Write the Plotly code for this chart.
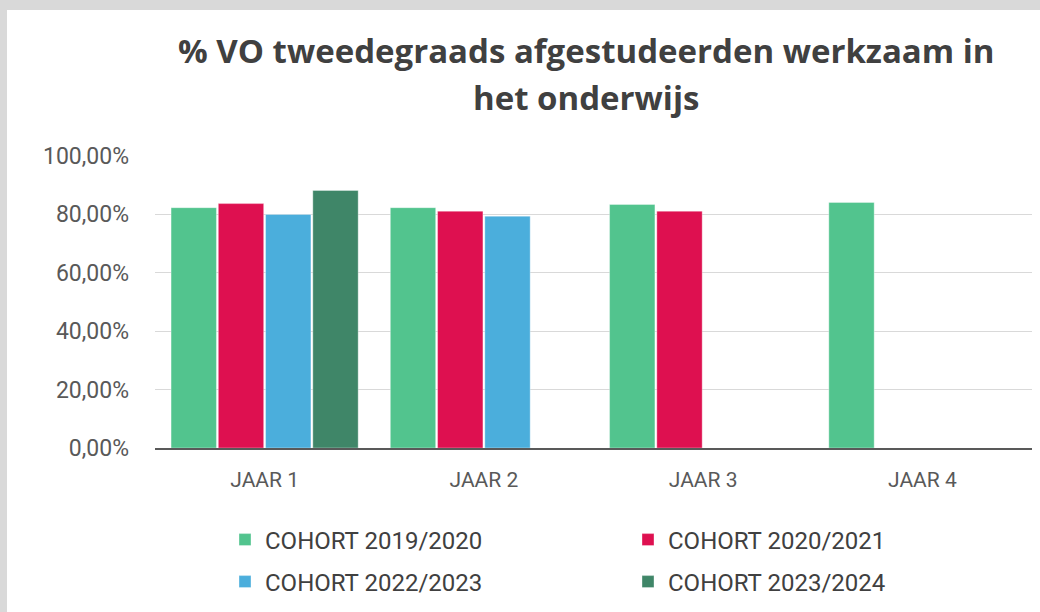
import plotly.graph_objects as go

categories = ["JAAR 1", "JAAR 2", "JAAR 3", "JAAR 4"]
cohort_2019_2020 = [82.3, 82.3, 83.4, 84.1]
cohort_2020_2021 = [83.7, 81.1, 81.1, None]
cohort_2022_2023 = [80.0, 79.4, None, None]
cohort_2023_2024 = [88.2, None, None, None]

series_names = ["COHORT 2019/2020", "COHORT 2020/2021", "COHORT 2022/2023", "COHORT 2023/2024"]
series_values = [cohort_2019_2020, cohort_2020_2021, cohort_2022_2023, cohort_2023_2024]
colors = ["#52C48E", "#DE1050", "#4BAEDC", "#3F8668"]
title_lines = ["% VO tweedegraads afgestudeerden werkzaam in", "het onderwijs"]

W, H = 1040, 612
L, R, T, B = 155, 1032, 156, 448
pw, ph = R - L, B - T

def px_x(x):
    return (x - L) / pw

def px_y(y):
    return (B - y) / ph

legend_ids = ["legend", "legend2", "legend3", "legend4"]
legend_pos = [(225, 540), (628, 540), (225, 582), (628, 582)]

fig = go.Figure()
for name, vals, col, lg in zip(series_names, series_values, colors, legend_ids):
    fig.add_trace(go.Bar(
        x=categories, y=vals, name=name, legend=lg,
        marker=dict(color=col, line=dict(color="rgba(255,255,255,0.35)", width=1)),
    ))

fig.add_shape(type="rect", xref="paper", yref="paper",
              x0=px_x(7), x1=px_x(1045), y0=px_y(620), y1=px_y(10),
              fillcolor="white", line=dict(width=0), layer="below")

title_font = dict(family="Open Sans", size=33, color="#404040", weight="bold")
for line, yc in zip(title_lines, [50, 97]):
    fig.add_annotation(text="<b>%s</b>" % line, xref="paper", yref="paper",
                       x=px_x(586), y=px_y(yc), xanchor="center", yanchor="middle",
                       showarrow=False, font=title_font)

legend_font = dict(family="Roboto", size=24, color="#404040")
legend_cfg = {}
for lg, (lx, ly) in zip(legend_ids, legend_pos):
    legend_cfg[lg] = dict(orientation="h", x=px_x(lx), y=px_y(ly), xanchor="left", yanchor="middle",
                          itemwidth=30, font=legend_font, bgcolor="rgba(0,0,0,0)")

fig.update_layout(
    width=W, height=H,
    margin=dict(l=L, r=W - R, t=T, b=H - B, pad=0, autoexpand=False),
    paper_bgcolor="#D9D9D9", plot_bgcolor="rgba(0,0,0,0)",
    barmode="group", bargap=0.138, bargroupgap=0.04,
    separators=",.",
    showlegend=True,
    xaxis=dict(showline=True, linecolor="#595959", linewidth=2, ticks="",
               tickfont=dict(family="Roboto", size=21, color="#595959"),
               ticklabelstandoff=12, showgrid=False, zeroline=False),
    yaxis=dict(range=[0, 100], dtick=20, tickformat=".2f", ticksuffix="%",
               showgrid=True, gridcolor="#D9D9D9", gridwidth=1, zeroline=False,
               showline=False, ticks="",
               tickfont=dict(family="Roboto", size=23, color="#595959"),
               ticklabelstandoff=25),
    **legend_cfg,
)

fig.write_html("out.html", config={"displayModeBar": False},
               post_script="document.body.style.margin='0';document.body.style.overflow='hidden';")
